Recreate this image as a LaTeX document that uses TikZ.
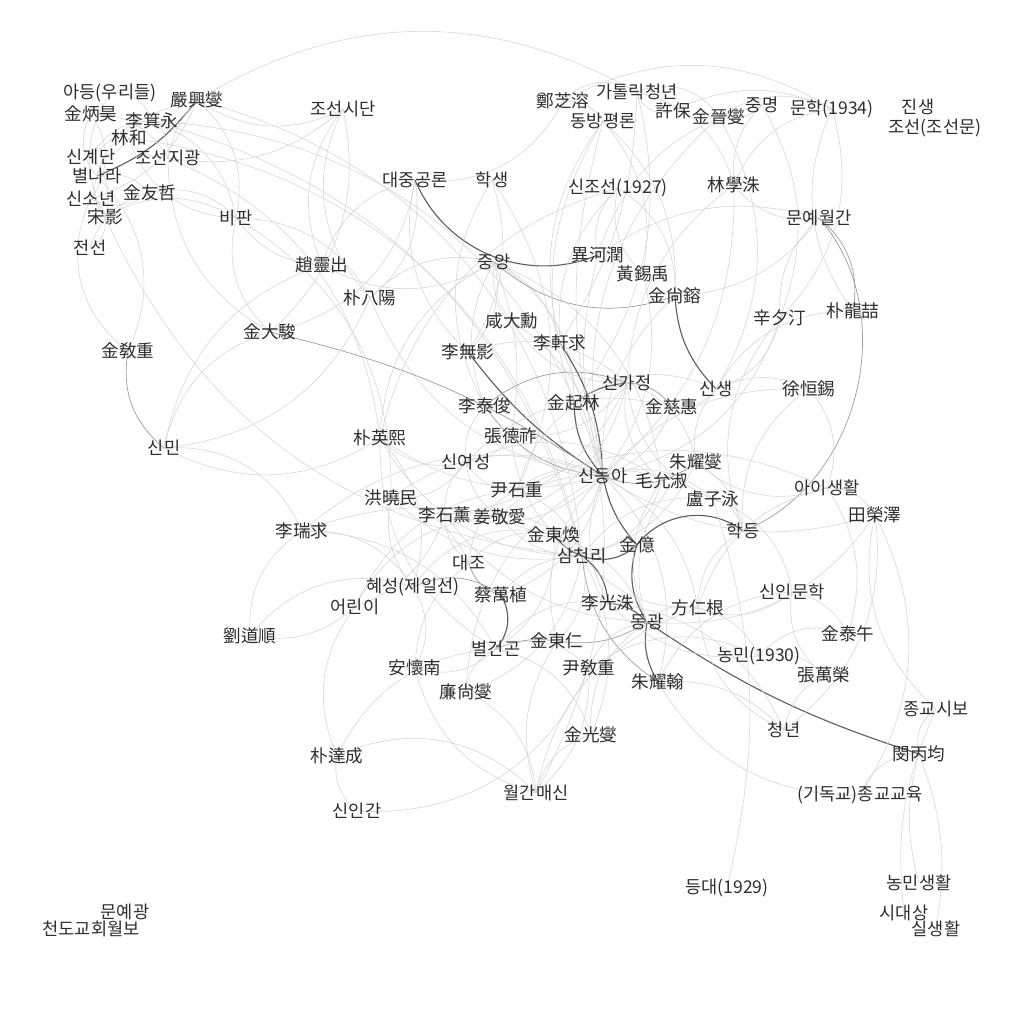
\documentclass[tikz,border=0pt]{standalone}
\usepackage{fontspec}
\setmainfont{Noto Sans CJK KR}
\usetikzlibrary{backgrounds}

\begin{document}
\begin{tikzpicture}[
    x=0.02cm, y=-0.02cm,
    nlabel/.style={font=\fontsize{10}{12}\selectfont, inner sep=0pt, text=black!82},
    link/.style={draw=black!17, line width=0.3pt},
    mid/.style={draw=black!38, line width=0.4pt},
    heavy/.style={draw=black!62, line width=0.65pt}
]
\useasboundingbox (0,0) rectangle (1024,1024);

% top left
\node[nlabel] (adeung) at (110,93) {아등(우리들)};
\node[nlabel] (eomhs) at (197,100) {嚴興燮};
\node[nlabel] (kimbh) at (91,114) {金炳昊};
\node[nlabel] (leegy) at (152,121) {李箕永};
\node[nlabel] (limhwa) at (129,138) {林和};
\node[nlabel] (singye) at (91,157) {신계단};
\node[nlabel] (josjg) at (168,158) {조선지광};
\node[nlabel] (byeol) at (97,176) {별나라};
\node[nlabel] (kimuc) at (150,193) {金友哲};
\node[nlabel] (sinso) at (91,199) {신소년};
\node[nlabel] (songy) at (105,217) {宋影};
\node[nlabel] (jeonseon) at (90,248) {전선};
\node[nlabel] (jossd) at (343,109) {조선시단};
\node[nlabel] (bipan) at (236,218) {비판};

% top
\node[nlabel] (jeongjy) at (563,101) {鄭芝溶};
\node[nlabel] (catholic) at (637,92) {가톨릭청년};
\node[nlabel] (heobo) at (673,111) {許保};
\node[nlabel] (dongbang) at (603,121) {동방평론};
\node[nlabel] (kimjs) at (719,117) {金晉燮};
\node[nlabel] (jungm) at (762,105) {중명};
\node[nlabel] (munhak) at (832,109) {문학(1934)};
\node[nlabel] (jinsaeng) at (918,107) {진생};
\node[nlabel] (joseon) at (935,128) {조선(조선문)};
\node[nlabel] (daejung) at (415,180) {대중공론};
\node[nlabel] (haksaeng) at (492,180) {학생};
\node[nlabel] (sinjoseon) at (618,188) {신조선(1927)};
\node[nlabel] (limhs) at (734,185) {林學洙};
\node[nlabel] (munye) at (819,218) {문예월간};

% upper middle
\node[nlabel] (jungang) at (494,262) {중앙};
\node[nlabel] (leehy) at (598,255) {異河潤};
\node[nlabel] (hwangsw) at (643,274) {黃錫禹};
\node[nlabel] (kimsy) at (675,296) {金尙鎔};
\node[nlabel] (jorc) at (322,265) {趙靈出};
\node[nlabel] (parkpy) at (370,298) {朴八陽};
\node[nlabel] (kimdj) at (270,332) {金大駿};
\node[nlabel] (kimgj) at (128,351) {金敎重};
\node[nlabel] (hamdh) at (512,321) {咸大勳};
\node[nlabel] (leehg) at (560,343) {李軒求};
\node[nlabel] (leemy) at (468,352) {李無影};
\node[nlabel] (sinsj) at (780,318) {辛夕汀};
\node[nlabel] (parkyc) at (853,311) {朴龍喆};
\node[nlabel] (singa) at (627,383) {신가정};
\node[nlabel] (sinsaeng) at (716,389) {신생};
\node[nlabel] (seohs) at (809,389) {徐恒錫};
\node[nlabel] (leetj) at (485,406) {李泰俊};
\node[nlabel] (kimgl) at (574,403) {金起林};
\node[nlabel] (kimjh) at (672,407) {金慈惠};
\node[nlabel] (jangdj) at (511,436) {張德祚};
\node[nlabel] (parkyh) at (380,438) {朴英熙};
\node[nlabel] (sinmin) at (164,448) {신민};

% centre
\node[nlabel] (sinyeo) at (466,462) {신여성};
\node[nlabel] (sindonga) at (603,476) {신동아};
\node[nlabel] (moys) at (662,481) {毛允淑};
\node[nlabel] (juys) at (696,462) {朱耀燮};
\node[nlabel] (aisaeng) at (827,488) {아이생활};
\node[nlabel] (yoonsj) at (517,490) {尹石重};
\node[nlabel] (honghm) at (391,498) {洪曉民};
\node[nlabel] (nojy) at (713,499) {盧子泳};
\node[nlabel] (jeonyt) at (875,515) {田榮澤};
\node[nlabel] (leesh) at (445,515) {李石薰};
\node[nlabel] (kangka) at (500,517) {姜敬愛};
\node[nlabel] (leesg) at (302,531) {李瑞求};
\node[nlabel] (kimdh) at (554,535) {金東煥};
\node[nlabel] (kimeok) at (637,545) {金億};
\node[nlabel] (hakdeung) at (743,531) {학등};
\node[nlabel] (samcheon) at (582,556) {삼천리};
\node[nlabel] (daejo) at (469,563) {대조};
\node[nlabel] (hyeseong) at (413,587) {혜성(제일선)};
\node[nlabel] (chaems) at (501,595) {蔡萬植};
\node[nlabel] (leegs) at (608,603) {李光洙};
\node[nlabel] (sinin) at (792,592) {신인문학};
\node[nlabel] (bangig) at (698,608) {方仁根};
\node[nlabel] (eorini) at (355,607) {어린이};
\node[nlabel] (donggwang) at (647,622) {동광};
\node[nlabel] (yoods) at (250,636) {劉道順};

% lower
\node[nlabel] (kimto) at (848,634) {金泰午};
\node[nlabel] (kimdi) at (557,641) {金東仁};
\node[nlabel] (byeolg) at (496,649) {별건곤};
\node[nlabel] (nongmin) at (759,656) {농민(1930)};
\node[nlabel] (anhn) at (415,668) {安懷南};
\node[nlabel] (yoongj) at (589,668) {尹敎重};
\node[nlabel] (jangmy) at (824,675) {張萬榮};
\node[nlabel] (yeomsb) at (466,692) {廉尙燮};
\node[nlabel] (juyh) at (658,682) {朱耀翰};
\node[nlabel] (jonggyo) at (936,709) {종교시보};
\node[nlabel] (cheong) at (784,730) {청년};
\node[nlabel] (kimgs) at (591,735) {金光燮};
\node[nlabel] (minbg) at (919,754) {閔丙均};
\node[nlabel] (parkds) at (337,756) {朴達成};
\node[nlabel] (wolgan) at (536,793) {월간매신};
\node[nlabel] (gidok) at (860,795) {(기독교)종교교육};
\node[nlabel] (sininkan) at (357,811) {신인간};
\node[nlabel] (deungdae) at (727,888) {등대(1929)};
\node[nlabel] (nongsaeng) at (919,883) {농민생활};
\node[nlabel] (sidae) at (904,913) {시대상};
\node[nlabel] (silsaeng) at (936,929) {실생활};
\node[nlabel] (munyeg) at (125,912) {문예광};
\node[nlabel] (cheondo) at (91,929) {천도교회월보};

\begin{scope}[on background layer]
\fill[white] (0,0) rectangle (1024,1024);
% top left group
\draw[heavy] (eomhs.center) to[bend left=15] (byeol.center);
\draw[link] (eomhs.center) to[bend left=25] (sinso.center);
\draw[link] (eomhs.center) to[bend right=15] (josjg.center);
\draw[link] (eomhs.center) to[bend left=30] (bipan.center);
\draw[link] (eomhs.center) to[bend right=30] (jossd.center);
\draw[link] (eomhs.center) to[bend right=15] (singye.center);
\draw[link] (eomhs.center) to[bend left=35] (samcheon.center);
\draw[link] (eomhs.center) to[bend left=30] (catholic.center);
\draw[link] (leegy.center) to[bend left=30] (josjg.center);
\draw[link] (leegy.center) to[bend right=30] (singye.center);
\draw[link] (leegy.center) to[bend left=30] (bipan.center);
\draw[link] (leegy.center) to[bend right=30] (byeol.center);
\draw[link] (leegy.center) to[bend left=35] (sindonga.center);
\draw[link] (leegy.center) to[bend left=30] (samcheon.center);
\draw[link] (leegy.center) to[bend right=40] (adeung.center);
\draw[link] (limhwa.center) to[bend left=30] (singye.center);
\draw[link] (limhwa.center) to[bend right=30] (josjg.center);
\draw[link] (limhwa.center) to[bend right=35] (bipan.center);
\draw[link] (limhwa.center) to[bend left=35] (samcheon.center);
\draw[link] (kimbh.center) to[bend left=35] (sinso.center);
\draw[link] (kimbh.center) to[bend right=35] (byeol.center);
\draw[link] (kimbh.center) to[bend left=30] (josjg.center);
\draw[link] (kimuc.center) to[bend right=30] (byeol.center);
\draw[link] (kimuc.center) to[bend left=30] (sinso.center);
\draw[link] (kimuc.center) to[bend left=30] (bipan.center);
\draw[link] (kimuc.center) to[bend right=30] (jeonseon.center);
\draw[link] (songy.center) to[bend left=30] (byeol.center);
\draw[link] (songy.center) to[bend right=35] (sinso.center);
\draw[link] (songy.center) to[bend left=30] (bipan.center);
\draw[link] (songy.center) to[bend right=30] (singye.center);
\draw[link] (songy.center) to[bend left=35] (jeonseon.center);
\draw[link] (songy.center) to[bend right=30] (samcheon.center);
\draw[link] (songy.center) to[bend left=30] (adeung.center);
\draw[link] (kimgj.center) to[bend left=40] (sinso.center);
\draw[link] (kimgj.center) to[bend right=35] (byeol.center);
\draw[mid] (kimgj.center) to[bend right=30] (sinmin.center);
% top middle
\draw[link] (jossd.center) to[bend right=30] (jorc.center);
\draw[link] (jossd.center) to[bend left=30] (kimdj.center);
\draw[link] (jossd.center) to[bend right=35] (parkpy.center);
\draw[link] (jossd.center) to[bend left=25] (josjg.center);
\draw[link] (daejung.center) to[bend left=30] (parkpy.center);
\draw[link] (daejung.center) to[bend left=35] (kimdj.center);
\draw[link] (daejung.center) to[bend right=30] (leemy.center);
\draw[link] (daejung.center) to[bend right=30] (jorc.center);
\draw[link] (daejung.center) to[bend right=35] (jeongjy.center);
\draw[heavy] (daejung.center) to[bend right=45] (leehy.center);
\draw[link] (haksaeng.center) to[bend left=30] (yoonsj.center);
\draw[link] (haksaeng.center) to[bend right=30] (leetj.center);
\draw[link] (haksaeng.center) to[bend left=25] (leemy.center);
\draw[link] (jungang.center) to[bend left=30] (leemy.center);
\draw[link] (jungang.center) to[bend right=25] (leetj.center);
\draw[link] (jungang.center) to[bend right=25] (hamdh.center);
\draw[link] (jungang.center) to[bend left=30] (kimgl.center);
\draw[link] (jungang.center) to[bend left=25] (leehg.center);
\draw[link] (jungang.center) to[bend left=15] (jangdj.center);
\draw[link] (jungang.center) to[bend right=30] (parkyh.center);
\draw[mid] (jungang.center) to[bend right=30] (kimsy.center);
\draw[link] (jungang.center) to[bend left=30] (moys.center);
\draw[link] (jungang.center) to[bend right=30] (parkpy.center);
\draw[link] (jungang.center) to[bend left=30] (jorc.center);
\draw[link] (dongbang.center) to[bend right=30] (jeongjy.center);
\draw[link] (dongbang.center) to[bend left=25] (kimsy.center);
\draw[link] (dongbang.center) to[bend right=25] (leehg.center);
\draw[link] (dongbang.center) to[bend right=25] (kimgl.center);
\draw[link] (dongbang.center) to[bend left=25] (hwangsw.center);
\draw[link] (dongbang.center) to[bend right=15] (sindonga.center);
\draw[link] (catholic.center) to[bend right=40] (jeongjy.center);
\draw[link] (catholic.center) to[bend right=50] (heobo.center);
\draw[link] (catholic.center) to[bend left=40] (kimjs.center);
\draw[link] (catholic.center) to[bend left=15] (leehg.center);
\draw[link] (catholic.center) to[bend left=25] (kimgl.center);
\draw[link] (catholic.center) to[bend left=30] (limhs.center);
\draw[link] (sinjoseon.center) to[bend left=30] (kimsy.center);
\draw[link] (sinjoseon.center) to[bend right=30] (hwangsw.center);
\draw[link] (sinjoseon.center) to[bend right=25] (leehg.center);
\draw[link] (sinjoseon.center) to[bend right=30] (leehy.center);
\draw[link] (sinjoseon.center) to[bend right=30] (parkyh.center);
\draw[link] (munhak.center) to[bend left=30] (sinsj.center);
\draw[link] (munhak.center) to[bend right=30] (parkyc.center);
\draw[link] (munhak.center) to[bend right=30] (limhs.center);
\draw[link] (munhak.center) to[bend right=30] (kimjs.center);
\draw[link] (munhak.center) to[bend right=25] (heobo.center);
\draw[link] (munhak.center) to[bend right=30] (jeongjy.center);
\draw[link] (jungm.center) to[bend left=30] (kimjs.center);
\draw[link] (jungm.center) to[bend right=25] (limhs.center);
\draw[link] (jungm.center) to[bend left=25] (sinsj.center);
\draw[link] (jungm.center) to[bend right=30] (leehy.center);
\draw[mid] (munye.center) to[bend left=30] (parkyc.center);
\draw[link] (munye.center) to[bend right=25] (leehy.center);
\draw[link] (munye.center) to[bend left=25] (kimsy.center);
\draw[link] (munye.center) to[bend right=25] (sinsj.center);
\draw[link] (munye.center) to[bend left=30] (limhs.center);
\draw[mid] (munye.center) to[bend left=55] (hakdeung.center);
\draw[link] (limhs.center) to[bend left=25] (sindonga.center);
\draw[link] (limhs.center) to[bend right=25] (singa.center);
\draw[link] (kimjs.center) to[bend left=30] (sinsaeng.center);
\draw[link] (kimjs.center) to[bend right=30] (sindonga.center);
% centre hubs
\draw[heavy] (sindonga.center) to[bend left=10] (leemy.center);
\draw[heavy] (sindonga.center) to[bend right=15] (leehg.center);
\draw[heavy] (sindonga.center) to[bend left=20] (kimgl.center);
\draw[heavy] (sindonga.center) to[bend right=15] (kimeok.center);
\draw[mid] (sindonga.center) to[bend left=25] (leetj.center);
\draw[link] (sindonga.center) to[bend left=25] (jangdj.center);
\draw[link] (sindonga.center) to[bend right=25] (hamdh.center);
\draw[mid] (sindonga.center) to[bend right=30] (juys.center);
\draw[link] (sindonga.center) to[bend left=25] (moys.center);
\draw[link] (sindonga.center) to[bend right=30] (yoonsj.center);
\draw[link] (sindonga.center) to[bend left=30] (leesh.center);
\draw[link] (sindonga.center) to[bend right=25] (kangka.center);
\draw[link] (sindonga.center) to[bend left=25] (kimdh.center);
\draw[link] (sindonga.center) to[bend right=25] (leegs.center);
\draw[link] (sindonga.center) to[bend left=25] (kimsy.center);
\draw[link] (sindonga.center) to[bend right=25] (hwangsw.center);
\draw[link] (sindonga.center) to[bend left=15] (leehy.center);
\draw[link] (sindonga.center) to[bend left=30] (parkpy.center);
\draw[mid] (sindonga.center) to[bend right=10] (kimdj.center);
\draw[link] (sindonga.center) to[bend right=30] (honghm.center);
\draw[link] (sindonga.center) to[bend right=25] (jeonyt.center);
\draw[link] (sindonga.center) to[bend left=25] (bangig.center);
\draw[link] (sindonga.center) to[bend left=30] (juyh.center);
\draw[link] (sindonga.center) to[bend left=30] (nojy.center);
\draw[link] (sindonga.center) to[bend right=25] (kimjh.center);
\draw[link] (sindonga.center) to[bend left=25] (seohs.center);
\draw[link] (sindonga.center) to[bend right=30] (sinsj.center);
\draw[link] (sindonga.center) to[bend left=25] (parkyh.center);
\draw[link] (sindonga.center) to[bend right=30] (leesg.center);
\draw[link] (sindonga.center) to[bend right=30] (kimdi.center);
\draw[link] (sindonga.center) to[bend left=30] (chaems.center);
\draw[link] (sindonga.center) to[bend right=30] (yeomsb.center);
\draw[heavy] (singa.center) to[bend right=15] (kimgl.center);
\draw[mid] (singa.center) to[bend left=25] (kimjh.center);
\draw[link] (singa.center) to[bend right=30] (moys.center);
\draw[link] (singa.center) to[bend left=30] (juys.center);
\draw[link] (singa.center) to[bend left=25] (leehg.center);
\draw[mid] (singa.center) to[bend right=30] (leetj.center);
\draw[link] (singa.center) to[bend left=30] (jangdj.center);
\draw[link] (singa.center) to[bend right=30] (yoonsj.center);
\draw[link] (singa.center) to[bend left=30] (kangka.center);
\draw[link] (singa.center) to[bend right=30] (leemy.center);
\draw[link] (singa.center) to[bend left=30] (hamdh.center);
\draw[link] (singa.center) to[bend right=30] (nojy.center);
\draw[link] (singa.center) to[bend left=30] (leesh.center);
\draw[heavy] (sinsaeng.center) to[bend left=20] (kimsy.center);
\draw[link] (sinsaeng.center) to[bend left=30] (kimjh.center);
\draw[link] (sinsaeng.center) to[bend right=30] (sinsj.center);
\draw[link] (sinsaeng.center) to[bend left=25] (seohs.center);
\draw[link] (sinsaeng.center) to[bend right=25] (juys.center);
\draw[link] (sinsaeng.center) to[bend left=30] (parkyc.center);
\draw[link] (sinsaeng.center) to[bend right=30] (kimgl.center);
\draw[heavy] (samcheon.center) to[bend left=15] (kimdh.center);
\draw[heavy] (samcheon.center) to[bend right=30] (kimeok.center);
\draw[heavy] (samcheon.center) to[bend left=25] (leegs.center);
\draw[link] (samcheon.center) to[bend right=30] (moys.center);
\draw[mid] (samcheon.center) to[bend right=25] (juyh.center);
\draw[link] (samcheon.center) to[bend left=30] (parkyh.center);
\draw[link] (samcheon.center) to[bend right=25] (leesg.center);
\draw[link] (samcheon.center) to[bend left=30] (kimdi.center);
\draw[link] (samcheon.center) to[bend right=25] (chaems.center);
\draw[link] (samcheon.center) to[bend left=30] (yeomsb.center);
\draw[link] (samcheon.center) to[bend right=30] (leesh.center);
\draw[link] (samcheon.center) to[bend left=25] (honghm.center);
\draw[link] (samcheon.center) to[bend right=25] (juys.center);
\draw[link] (samcheon.center) to[bend left=25] (kangka.center);
\draw[link] (samcheon.center) to[bend right=25] (yoonsj.center);
\draw[link] (samcheon.center) to[bend left=30] (nojy.center);
\draw[link] (samcheon.center) to[bend right=25] (bangig.center);
\draw[link] (samcheon.center) to[bend left=25] (jangdj.center);
\draw[link] (samcheon.center) to[bend left=25] (kimgs.center);
\draw[heavy] (donggwang.center) to[bend right=20] (leegs.center);
\draw[heavy] (donggwang.center) to[bend left=25] (kimeok.center);
\draw[heavy] (donggwang.center) to[bend right=20] (juyh.center);
\draw[mid] (donggwang.center) to[bend left=20] (kimdi.center);
\draw[heavy] (donggwang.center) to[bend right=8] (minbg.center);
\draw[link] (donggwang.center) to[bend left=30] (bangig.center);
\draw[link] (donggwang.center) to[bend right=30] (yoongj.center);
\draw[link] (donggwang.center) to[bend left=35] (juys.center);
\draw[link] (donggwang.center) to[bend left=30] (moys.center);
\draw[link] (donggwang.center) to[bend right=25] (kimdh.center);
\draw[link] (donggwang.center) to[bend left=25] (leesh.center);
\draw[link] (donggwang.center) to[bend right=30] (jeonyt.center);
\draw[link] (donggwang.center) to[bend right=30] (kimgs.center);
\draw[heavy] (byeolg.center) to[bend right=35] (chaems.center);
\draw[mid] (byeolg.center) to[bend left=15] (kimdi.center);
\draw[link] (byeolg.center) to[bend right=30] (yeomsb.center);
\draw[link] (byeolg.center) to[bend left=30] (anhn.center);
\draw[link] (byeolg.center) to[bend right=30] (leesg.center);
\draw[link] (byeolg.center) to[bend left=30] (parkyh.center);
\draw[link] (byeolg.center) to[bend left=35] (yoongj.center);
\draw[link] (byeolg.center) to[bend right=30] (kimdh.center);
\draw[link] (byeolg.center) to[bend left=30] (leegs.center);
\draw[link] (byeolg.center) to[bend right=30] (parkds.center);
\draw[link] (byeolg.center) to[bend left=30] (kimgs.center);
\draw[mid] (hyeseong.center) to[bend left=30] (chaems.center);
\draw[link] (hyeseong.center) to[bend left=30] (anhn.center);
\draw[link] (hyeseong.center) to[bend right=30] (leesg.center);
\draw[link] (hyeseong.center) to[bend left=25] (honghm.center);
\draw[link] (hyeseong.center) to[bend right=30] (parkyh.center);
\draw[link] (hyeseong.center) to[bend right=35] (yoods.center);
\draw[link] (hyeseong.center) to[bend left=35] (kimdh.center);
\draw[link] (daejo.center) to[bend left=25] (leesh.center);
\draw[mid] (daejo.center) to[bend right=30] (chaems.center);
\draw[link] (daejo.center) to[bend right=25] (honghm.center);
\draw[link] (daejo.center) to[bend left=30] (yoonsj.center);
\draw[link] (daejo.center) to[bend left=30] (kimdh.center);
\draw[link] (daejo.center) to[bend right=25] (anhn.center);
\draw[link] (sinyeo.center) to[bend left=25] (leetj.center);
\draw[link] (sinyeo.center) to[bend right=30] (yoonsj.center);
\draw[link] (sinyeo.center) to[bend left=30] (moys.center);
\draw[link] (sinyeo.center) to[bend right=25] (kangka.center);
\draw[link] (sinyeo.center) to[bend left=30] (parkyh.center);
\draw[link] (sinyeo.center) to[bend right=25] (leesh.center);
\draw[link] (sinyeo.center) to[bend right=25] (jangdj.center);
\draw[link] (sinyeo.center) to[bend left=30] (kimjh.center);
\draw[link] (sinyeo.center) to[bend left=30] (honghm.center);
\draw[link] (eorini.center) to[bend left=30] (yoonsj.center);
\draw[link] (eorini.center) to[bend left=25] (yoods.center);
\draw[link] (eorini.center) to[bend right=30] (parkds.center);
\draw[link] (eorini.center) to[bend right=25] (leesh.center);
\draw[link] (eorini.center) to[bend left=30] (kangka.center);
% left side
\draw[link] (sinmin.center) to[bend left=30] (kimdj.center);
\draw[link] (sinmin.center) to[bend right=30] (parkyh.center);
\draw[link] (sinmin.center) to[bend left=35] (leesg.center);
\draw[link] (sinmin.center) to[bend right=30] (parkpy.center);
\draw[link] (sinmin.center) to[bend left=30] (jorc.center);
\draw[link] (bipan.center) to[bend right=30] (kimdj.center);
\draw[link] (bipan.center) to[bend left=30] (parkpy.center);
\draw[link] (bipan.center) to[bend right=25] (jorc.center);
\draw[link] (bipan.center) to[bend left=30] (honghm.center);
\draw[link] (josjg.center) to[bend left=30] (parkyh.center);
\draw[link] (josjg.center) to[bend right=30] (kimdj.center);
\draw[link] (yoods.center) to[bend left=30] (leesg.center);
% right side
\draw[link] (aisaeng.center) to[bend left=30] (jeonyt.center);
\draw[link] (aisaeng.center) to[bend right=25] (yoonsj.center);
\draw[link] (aisaeng.center) to[bend right=30] (seohs.center);
\draw[link] (aisaeng.center) to[bend left=30] (juys.center);
\draw[link] (aisaeng.center) to[bend right=30] (bangig.center);
\draw[link] (aisaeng.center) to[bend left=25] (kimto.center);
\draw[heavy] (hakdeung.center) to[bend right=45] (kimeok.center);
\draw[link] (hakdeung.center) to[bend right=30] (nojy.center);
\draw[link] (hakdeung.center) to[bend left=30] (seohs.center);
\draw[link] (hakdeung.center) to[bend right=30] (bangig.center);
\draw[link] (hakdeung.center) to[bend left=30] (sinsj.center);
\draw[link] (hakdeung.center) to[bend right=25] (juys.center);
\draw[link] (sinin.center) to[bend right=30] (nojy.center);
\draw[link] (sinin.center) to[bend left=25] (kimto.center);
\draw[link] (sinin.center) to[bend right=30] (jangmy.center);
\draw[link] (sinin.center) to[bend left=30] (bangig.center);
\draw[link] (sinin.center) to[bend right=30] (juyh.center);
\draw[link] (nongmin.center) to[bend left=30] (jangmy.center);
\draw[link] (nongmin.center) to[bend left=35] (kimto.center);
\draw[link] (nongmin.center) to[bend right=25] (bangig.center);
\draw[link] (nongmin.center) to[bend left=25] (leegs.center);
\draw[link] (nongmin.center) to[bend right=30] (yoongj.center);
\draw[link] (cheong.center) to[bend right=30] (jeonyt.center);
\draw[link] (cheong.center) to[bend left=30] (bangig.center);
\draw[link] (cheong.center) to[bend right=25] (juyh.center);
\draw[link] (cheong.center) to[bend left=25] (jangmy.center);
\draw[link] (cheong.center) to[bend right=30] (leegs.center);
\draw[link] (jonggyo.center) to[bend right=35] (minbg.center);
\draw[link] (jonggyo.center) to[bend left=30] (jeonyt.center);
\draw[link] (gidok.center) to[bend left=35] (minbg.center);
\draw[link] (gidok.center) to[bend right=30] (jeonyt.center);
\draw[link] (gidok.center) to[bend left=30] (juyh.center);
% bottom
\draw[link] (wolgan.center) to[bend left=30] (kimgs.center);
\draw[link] (wolgan.center) to[bend right=30] (yeomsb.center);
\draw[link] (wolgan.center) to[bend left=30] (anhn.center);
\draw[link] (wolgan.center) to[bend right=25] (yoongj.center);
\draw[link] (wolgan.center) to[bend left=25] (kimdi.center);
\draw[link] (wolgan.center) to[bend right=35] (parkds.center);
\draw[link] (wolgan.center) to[bend right=25] (leehg.center);
\draw[link] (wolgan.center) to[bend left=30] (bangig.center);
\draw[link] (sininkan.center) to[bend left=30] (parkds.center);
\draw[link] (sininkan.center) to[bend right=35] (yoongj.center);
\draw[link] (deungdae.center) to[bend right=15] (nojy.center);
\draw[link] (nongsaeng.center) to[bend left=15] (minbg.center);
\draw[link] (silsaeng.center) to[bend right=15] (minbg.center);
\draw[link] (sidae.center) to[bend left=15] (jonggyo.center);
\end{scope}
\end{tikzpicture}
\end{document}
